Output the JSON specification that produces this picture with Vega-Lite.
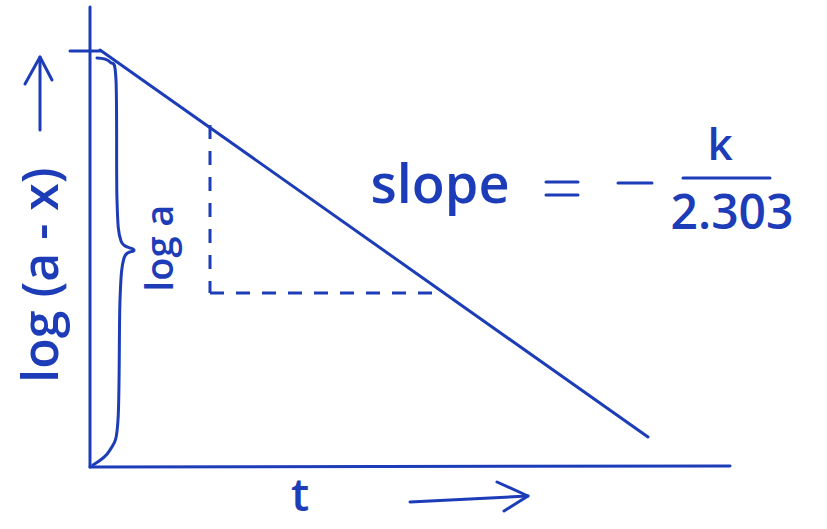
{
  "$schema": "https://vega.github.io/schema/vega-lite/v6.json",
  "width": 827,
  "height": 529,
  "padding": 0,
  "autosize": {"type": "fit", "contains": "padding"},
  "background": "white",
  "config": {"view": {"stroke": null}},
  "datasets": {
    "solid": [
      {"id": "yaxis", "o": 1, "t": 0, "L": 0},
      {"id": "yaxis", "o": 2, "t": 0, "L": 460},
      {"id": "xaxis", "o": 1, "t": 0, "L": 0},
      {"id": "xaxis", "o": 2, "t": 640, "L": 1},
      {"id": "tick", "o": 1, "t": -20, "L": 416},
      {"id": "tick", "o": 2, "t": 10, "L": 416},
      {"id": "main", "o": 1, "t": 10, "L": 417},
      {"id": "main", "o": 2, "t": 558, "L": 30},
      {"id": "bar", "o": 1, "t": 593, "L": 289},
      {"id": "bar", "o": 2, "t": 680, "L": 289},
      {"id": "eq1", "o": 1, "t": 456, "L": 285},
      {"id": "eq1", "o": 2, "t": 488, "L": 285},
      {"id": "eq2", "o": 1, "t": 456, "L": 272},
      {"id": "eq2", "o": 2, "t": 488, "L": 272},
      {"id": "minus", "o": 1, "t": 528, "L": 284},
      {"id": "minus", "o": 2, "t": 562, "L": 284},
      {"id": "tarrow", "o": 1, "t": 320, "L": -35},
      {"id": "tarrow", "o": 2, "t": 438, "L": -29},
      {"id": "thead", "o": 1, "t": 407, "L": -15},
      {"id": "thead", "o": 2, "t": 438, "L": -29},
      {"id": "thead", "o": 3, "t": 414, "L": -44},
      {"id": "yarrow", "o": 1, "t": -50, "L": 337},
      {"id": "yarrow", "o": 2, "t": -50, "L": 410},
      {"id": "yhead", "o": 1, "t": -65, "L": 383},
      {"id": "yhead", "o": 2, "t": -50, "L": 410},
      {"id": "yhead", "o": 3, "t": -38, "L": 387}
    ],
    "brace": [
      {"o": 1, "t": 7, "L": 409},
      {"o": 2, "t": 20, "L": 405},
      {"o": 3, "t": 26, "L": 387},
      {"o": 4, "t": 27, "L": 267},
      {"o": 5, "t": 31, "L": 226},
      {"o": 6, "t": 44, "L": 217},
      {"o": 7, "t": 34, "L": 209},
      {"o": 8, "t": 30, "L": 167},
      {"o": 9, "t": 28, "L": 47},
      {"o": 10, "t": 20, "L": 17},
      {"o": 11, "t": 3, "L": 2}
    ],
    "dashed": [
      {"id": "v", "o": 1, "t": 120, "L": 342},
      {"id": "v", "o": 2, "t": 120, "L": 174},
      {"id": "h", "o": 1, "t": 120, "L": 174},
      {"id": "h", "o": 2, "t": 354, "L": 174}
    ],
    "labels": [
      {"text": "log (a - x)", "t": -47, "L": 192, "angle": 270, "size": 50},
      {"text": "log a", "t": 72, "L": 219, "angle": 270, "size": 38},
      {"text": "slope", "t": 350, "L": 280, "angle": 0, "size": 54},
      {"text": "k", "t": 630, "L": 320, "angle": 0, "size": 44},
      {"text": "2.303", "t": 642, "L": 252, "angle": 0, "size": 48},
      {"text": "t", "t": 210, "L": -30, "angle": 0, "size": 46}
    ]
  },
  "layer": [
    {
      "data": {"name": "solid"},
      "mark": {"type": "line", "color": "#1c3cb8", "strokeWidth": 3, "strokeCap": "round", "strokeJoin": "round"},
      "encoding": {
        "x": {"field": "t", "type": "quantitative", "scale": {"domain": [-90, 737]}, "axis": null},
        "y": {"field": "L", "type": "quantitative", "scale": {"domain": [-62, 467]}, "axis": null},
        "detail": {"field": "id"},
        "order": {"field": "o"}
      }
    },
    {
      "data": {"name": "brace"},
      "mark": {"type": "line", "color": "#1c3cb8", "strokeWidth": 3, "interpolate": "cardinal", "strokeCap": "round"},
      "encoding": {
        "x": {"field": "t", "type": "quantitative", "scale": {"domain": [-90, 737]}, "axis": null},
        "y": {"field": "L", "type": "quantitative", "scale": {"domain": [-62, 467]}, "axis": null},
        "order": {"field": "o"}
      }
    },
    {
      "data": {"name": "dashed"},
      "mark": {"type": "line", "color": "#1c3cb8", "strokeWidth": 3, "strokeDash": [14, 12]},
      "encoding": {
        "x": {"field": "t", "type": "quantitative", "scale": {"domain": [-90, 737]}, "axis": null},
        "y": {"field": "L", "type": "quantitative", "scale": {"domain": [-62, 467]}, "axis": null},
        "detail": {"field": "id"},
        "order": {"field": "o"}
      }
    },
    {
      "data": {"name": "labels"},
      "mark": {"type": "text", "color": "#1c3cb8", "font": "Open Sans", "baseline": "middle", "align": "center", "fontWeight": 600},
      "encoding": {
        "x": {"field": "t", "type": "quantitative", "scale": {"domain": [-90, 737]}, "axis": null},
        "y": {"field": "L", "type": "quantitative", "scale": {"domain": [-62, 467]}, "axis": null},
        "text": {"field": "text"},
        "angle": {"field": "angle", "type": "quantitative", "scale": null},
        "size": {"field": "size", "type": "quantitative", "scale": null}
      }
    }
  ]
}
